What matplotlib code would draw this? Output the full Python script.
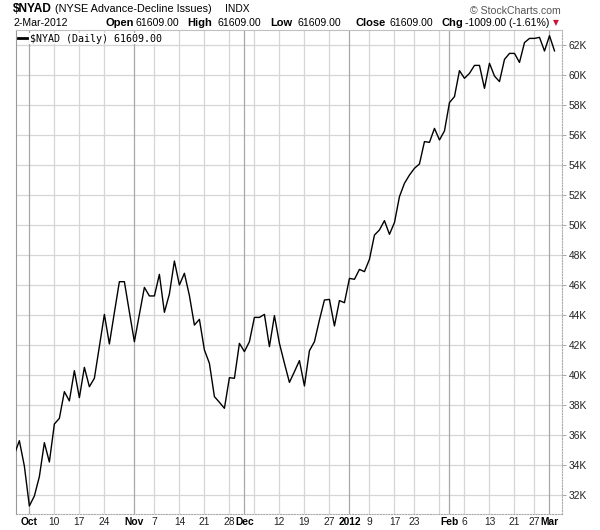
import matplotlib
matplotlib.use("Agg")
import matplotlib.pyplot as plt
from matplotlib.lines import Line2D
import numpy as np

plt.rcParams['font.family'] = ['Liberation Sans', 'DejaVu Sans']

# daily NYSE advance-decline line, trading-day index -3 (28 Sep 2011) .. 105 (2 Mar 2012)
nyad = [34700, 35620, 33930, 31270, 31930, 33220, 35490, 34200, 36730, 37110,
        38890, 38270, 40290, 38490, 40510, 39220, 39780, 41900, 44040, 42070,
        44160, 46220, 46220, 44200, 42220, 44040, 45840, 45270, 45270, 46710,
        44180, 45400, 47600, 46000, 46780, 45300, 43330, 43710, 41670, 40780,
        38560, 38180, 37780, 39820, 39780, 42110, 41560, 42220, 43840, 43840,
        44040, 41890, 43960, 42110, 40780, 39510, 40220, 40960, 39270, 41620,
        42220, 43670, 45000, 45040, 43270, 44960, 44820, 46440, 46380, 47040,
        46890, 47710, 49330, 49670, 50290, 49380, 50160, 51890, 52780, 53330,
        53780, 54070, 55560, 55510, 56440, 55670, 56270, 58160, 58560, 60290,
        59780, 60110, 60640, 60640, 59110, 60780, 59930, 59560, 61040, 61440,
        61440, 60840, 62160, 62440, 62440, 62510, 61600, 62618, 61609]
days = np.arange(-3, -3 + len(nyad))

# weekly grid lines / labels (trading-day index)
week_pos = [5, 10, 15, 25, 30, 35, 40, 45, 50, 55, 60, 68, 73, 77, 82, 87, 92, 97, 101]
week_lbl = ["10", "17", "24", "7", "14", "21", "28", "", "12", "19", "27", "9", "17", "23", "", "6", "13", "21", "27"]
month_pos = [0, 21, 43, 64, 84, 104]
month_lbl = ["Oct", "Nov", "Dec", "2012", "Feb", "Mar"]
y_ticks = list(range(32000, 62001, 2000))


def fx(px):
    return px / 600


def fy(py):
    return 1 - py / 530


fig = plt.figure(figsize=(6, 5.3), dpi=100)
ax = fig.add_axes([fx(16), fy(514), (562 - 16) / 600, (514 - 30) / 530])

ax.plot(days, nyad, color="black", lw=1.0, zorder=3)
ax.set_xlim(-2.67, 106.5)
ax.set_ylim(30733, 63000)

# grid
for p in week_pos:
    ax.axvline(p, color="#d6d6d6", lw=0.9, zorder=1)
for p in month_pos:
    ax.axvline(p, color="#a8a8a8", lw=0.9, zorder=1)
ax.set_yticks(y_ticks)
ax.set_yticklabels(["%dK" % (v // 1000) for v in y_ticks])
ax.yaxis.grid(True, color="#d6d6d6", lw=0.9)
ax.set_axisbelow(True)
ax.yaxis.tick_right()
ax.tick_params(axis="y", length=3, width=0.6, color="#999999", pad=2,
               labelsize=7.4, labelcolor="#222222")

ticks = week_pos + month_pos
labels = week_lbl + month_lbl
ax.set_xticks(ticks)
ax.set_xticklabels(labels)
ax.tick_params(axis="x", length=0, pad=2.5, labelsize=7.4, labelcolor="#222222")
for t in ax.get_xticklabels():
    if t.get_text() in month_lbl:
        t.set_fontweight("bold")
        t.set_color("black")

ax.spines["left"].set_color("#999999")
ax.spines["top"].set_color("#c0c0c0")
ax.spines["top"].set_linewidth(0.8)
for s in ["right", "bottom"]:
    ax.spines[s].set_color("#aaaaaa")
    ax.spines[s].set_linestyle((0, (1, 1.5)))
    ax.spines[s].set_linewidth(0.8)

# header
fig.text(fx(13), fy(9), r"\$NYAD", fontsize=8.6, fontweight="bold", va="center")
fig.text(fx(55), fy(9.5), "(NYSE Advance-Decline Issues)", fontsize=7.8, va="center")
fig.text(fx(225), fy(9.5), "INDX", fontsize=7.4, va="center")
fig.text(fx(561), fy(11), "\u00a9 StockCharts.com", fontsize=7.6, color="#555555",
         ha="right", va="center")

fig.text(fx(14), fy(23), "2-Mar-2012", fontsize=7.6, va="center")
row2 = [(106, "Open", True), (136, "61609.00", False),
        (187, "High", True), (217, "61609.00", False),
        (270, "Low", True), (298, "61609.00", False),
        (356, "Close", True), (390, "61609.00", False),
        (442, "Chg", True), (465, "-1009.00 (-1.61%)", False)]
for px, s, b in row2:
    fig.text(fx(px), fy(23), s, fontsize=8 if b else 7.6,
             fontweight="bold" if b else "normal", va="center")
fig.text(fx(556), fy(23), "\u25bc", fontsize=5.5, color="#cc1133",
         ha="center", va="center", family="DejaVu Sans")

# legend
fig.add_artist(Line2D([fx(18), fx(27)], [fy(38), fy(38)], color="black", lw=2))
fig.text(fx(30), fy(38.5), r"\$NYAD (Daily) 61609.00", fontsize=7.2,
         family="DejaVu Sans Mono", va="center",
         bbox=dict(facecolor="white", edgecolor="none", pad=0.5))

fig.savefig("out.png", dpi=100)
